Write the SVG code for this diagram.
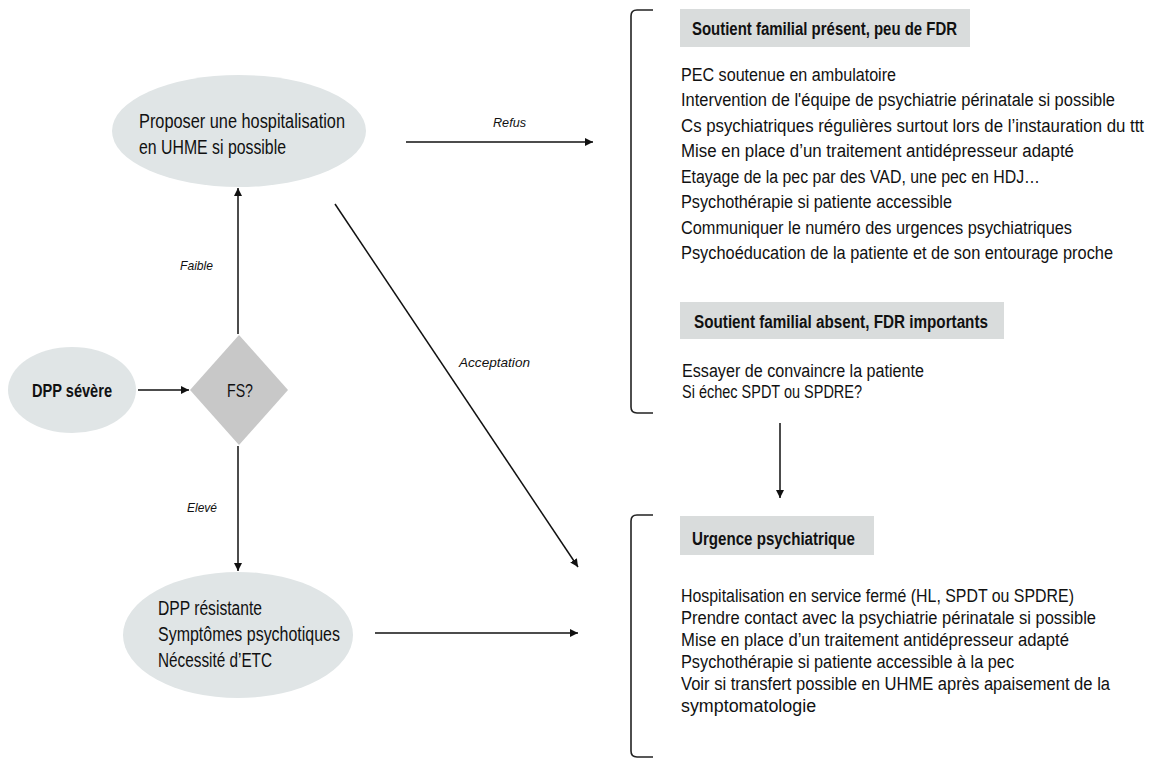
<svg xmlns="http://www.w3.org/2000/svg" width="1150" height="760" viewBox="0 0 1150 760">
<defs>
<marker id="ah" viewBox="0 0 10 10" refX="10" refY="5" markerWidth="8" markerHeight="8" markerUnits="userSpaceOnUse" orient="auto">
<path d="M0,0 L10,5 L0,10 z" fill="#111"/>
</marker>
<style>
text{font-family:"Liberation Sans",Arial,sans-serif;fill:#111}
.el{fill:#e0e5e6}
.hd{fill:#d9dcdc}
.dm{fill:#c8c8c8}
.n{font-size:20px}
.b{font-size:19px}
.h{font-size:18px;font-weight:bold}
.lb{font-size:13px;font-style:italic}
.ln{stroke:#111;stroke-width:1.5;fill:none}
.br{stroke:#222;stroke-width:1.6;fill:none}
</style>
</defs>
<rect width="1150" height="760" fill="#fff"/>

<g id="connectors">
<line class="ln" x1="138" y1="390" x2="189" y2="390" marker-end="url(#ah)"/>
<line class="ln" x1="238" y1="334" x2="238" y2="188" marker-end="url(#ah)"/>
<line class="ln" x1="238" y1="446" x2="238" y2="571" marker-end="url(#ah)"/>
<line class="ln" x1="406" y1="142" x2="593" y2="142" marker-end="url(#ah)"/>
<line class="ln" x1="335" y1="204" x2="578" y2="567" marker-end="url(#ah)"/>
<line class="ln" x1="375" y1="633" x2="578" y2="633" marker-end="url(#ah)"/>
<line class="ln" x1="780" y1="423" x2="780" y2="498" marker-end="url(#ah)"/>
<text class="lb" x="180" y="270" textLength="33" lengthAdjust="spacingAndGlyphs">Faible</text>
<text class="lb" x="187" y="512" textLength="30" lengthAdjust="spacingAndGlyphs">Elevé</text>
<text class="lb" x="493" y="127" textLength="33" lengthAdjust="spacingAndGlyphs">Refus</text>
<text class="lb" x="459" y="367" textLength="71" lengthAdjust="spacingAndGlyphs">Acceptation</text>
</g>

<g id="dpp-severe">
<ellipse class="el" cx="72" cy="390" rx="64" ry="43"/>
<text class="b" x="32" y="397" font-weight="bold" textLength="80" lengthAdjust="spacingAndGlyphs">DPP sévère</text>
</g>

<g id="fs">
<polygon class="dm" points="239,335 288,390 239,445 190,390"/>
<text class="b" x="227" y="397" textLength="26" lengthAdjust="spacingAndGlyphs">FS?</text>
</g>

<g id="hospitalisation">
<ellipse class="el" cx="239" cy="131" rx="127" ry="56"/>
<text class="n" x="139" y="128" textLength="206" lengthAdjust="spacingAndGlyphs">Proposer une hospitalisation</text>
<text class="n" x="139" y="154" textLength="147" lengthAdjust="spacingAndGlyphs">en UHME si possible</text>
</g>

<g id="dpp-resistante">
<ellipse class="el" cx="238" cy="635" rx="115" ry="63"/>
<text class="n" x="158" y="615" textLength="104" lengthAdjust="spacingAndGlyphs">DPP résistante</text>
<text class="n" x="158" y="641" textLength="182" lengthAdjust="spacingAndGlyphs">Symptômes psychotiques</text>
<text class="n" x="158" y="667" textLength="114" lengthAdjust="spacingAndGlyphs">Nécessité d’ETC</text>
</g>

<g id="bloc-refus">
<path class="br" d="M653,10 L637,10 Q631,10 631,16 L631,407 Q631,413 637,413 L653,413"/>
<rect class="hd" x="680" y="9" width="290" height="38"/>
<text class="h" x="692" y="35" textLength="265" lengthAdjust="spacingAndGlyphs">Soutient familial présent, peu de FDR</text>
<g transform="translate(681 0) scale(0.855 1)">
<text class="b" x="0" y="81" textLength="251.5" lengthAdjust="spacingAndGlyphs">PEC soutenue en ambulatoire</text>
<text class="b" x="0" y="106.5" textLength="507.6" lengthAdjust="spacingAndGlyphs">Intervention de l'équipe de psychiatrie périnatale si possible</text>
<text class="b" x="0" y="132" textLength="541.5" lengthAdjust="spacingAndGlyphs">Cs psychiatriques régulières surtout lors de l’instauration du ttt</text>
<text class="b" x="0" y="157.5" textLength="459.6" lengthAdjust="spacingAndGlyphs">Mise en place d’un traitement antidépresseur adapté</text>
<text class="b" x="0" y="183" textLength="419.9" lengthAdjust="spacingAndGlyphs">Etayage de la pec par des VAD, une pec en HDJ…</text>
<text class="b" x="0" y="208.5" textLength="317" lengthAdjust="spacingAndGlyphs">Psychothérapie si patiente accessible</text>
<text class="b" x="0" y="234" textLength="457.3" lengthAdjust="spacingAndGlyphs">Communiquer le numéro des urgences psychiatriques</text>
<text class="b" x="0" y="259.5" textLength="505.3" lengthAdjust="spacingAndGlyphs">Psychoéducation de la patiente et de son entourage proche</text>
</g>
<rect class="hd" x="680" y="302" width="324" height="37"/>
<text class="h" x="694" y="328" textLength="294" lengthAdjust="spacingAndGlyphs">Soutient familial absent, FDR importants</text>
<g transform="translate(681 0) scale(0.855 1)">
<text class="b" x="1.2" y="377" textLength="283" lengthAdjust="spacingAndGlyphs">Essayer de convaincre la patiente</text>
<text class="b" x="1.2" y="398" textLength="210.5" lengthAdjust="spacingAndGlyphs">Si échec SPDT ou SPDRE?</text>
</g>
</g>

<g id="bloc-urgence">
<path class="br" d="M653,515 L637,515 Q631,515 631,521 L631,751 Q631,757 637,757 L653,757"/>
<rect class="hd" x="680" y="516" width="194" height="39"/>
<text class="h" x="692" y="545" textLength="163" lengthAdjust="spacingAndGlyphs">Urgence psychiatrique</text>
<g transform="translate(681 0) scale(0.855 1)">
<text class="b" x="0" y="602" textLength="459.6" lengthAdjust="spacingAndGlyphs">Hospitalisation en service fermé (HL, SPDT ou SPDRE)</text>
<text class="b" x="0" y="624" textLength="485.4" lengthAdjust="spacingAndGlyphs">Prendre contact avec la psychiatrie périnatale si possible</text>
<text class="b" x="0" y="646" textLength="453.8" lengthAdjust="spacingAndGlyphs">Mise en place d’un traitement antidépresseur adapté</text>
<text class="b" x="0" y="668" textLength="389.5" lengthAdjust="spacingAndGlyphs">Psychothérapie si patiente accessible à la pec</text>
<text class="b" x="0" y="690" textLength="501.8" lengthAdjust="spacingAndGlyphs">Voir si transfert possible en UHME après apaisement de la</text>
<text class="b" x="0" y="712" textLength="158" lengthAdjust="spacingAndGlyphs">symptomatologie</text>
</g>
</g>
</svg>
